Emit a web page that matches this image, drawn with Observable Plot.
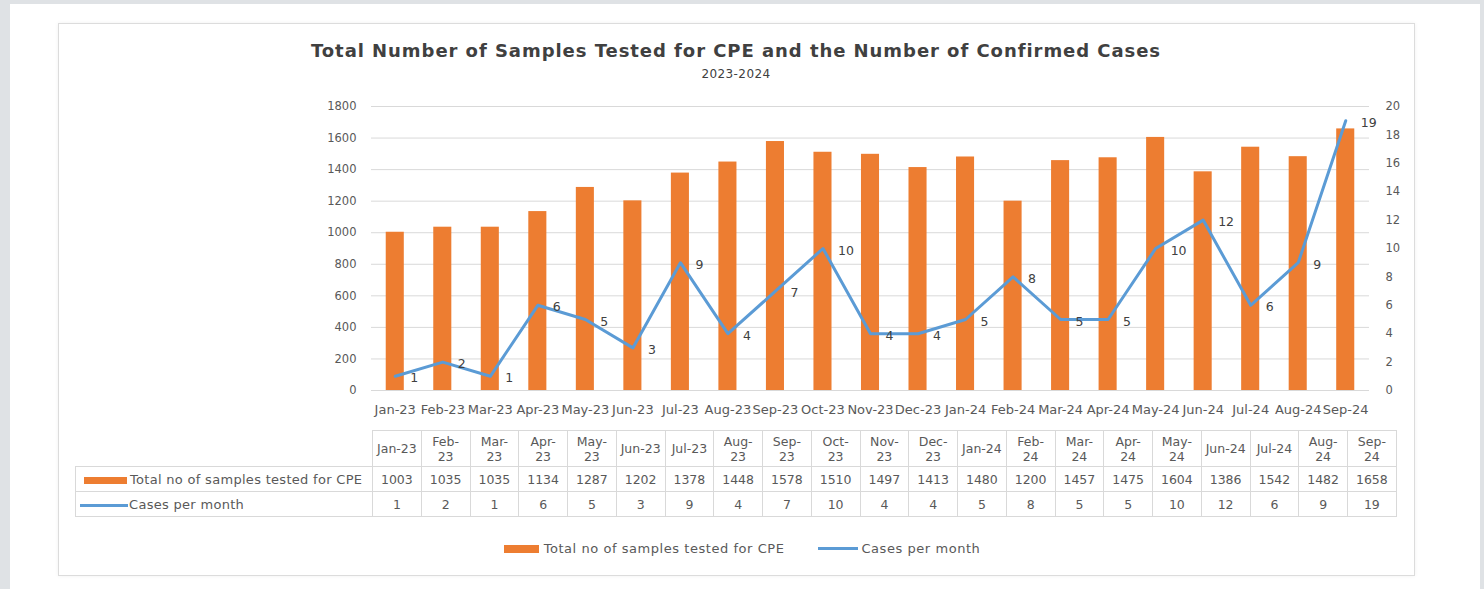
<!DOCTYPE html>
<html>
<head>
<meta charset="utf-8">
<script src="https://cdn.jsdelivr.net/npm/d3@7"></script>
<script src="https://cdn.jsdelivr.net/npm/@observablehq/plot@0.6"></script>
<style>
  html, body { margin:0; padding:0; }
  body { width:1484px; height:589px; background:#dfe2e5; position:relative; overflow:hidden; font-family:"DejaVu Sans", sans-serif; }
  #card { position:absolute; left:10px; top:4px; width:1470px; height:585px; background:#fff; }
  #frame { position:absolute; left:58px; top:23px; width:1355px; height:551px; border:1px solid #dcdcdc; box-shadow:0 0 4px rgba(0,0,0,0.06); }
  #title { position:absolute; left:58px; width:1356px; top:40px; text-align:center; font:bold 18px "DejaVu Sans", sans-serif; letter-spacing:0.95px; color:#404040; }
  #subtitle { position:absolute; left:58px; width:1356px; top:67px; text-align:center; font:12px "DejaVu Sans", sans-serif; color:#404040; letter-spacing:0.4px; }
  #chart { position:absolute; left:0; top:0; }
  #table { position:absolute; left:75px; top:430px; border-collapse:collapse; font:12.5px "DejaVu Sans", sans-serif; color:#595959; table-layout:fixed; }
  #table td { border:1px solid #d9d9d9; text-align:center; padding:0; line-height:15px; }
  #table tr.h td { height:35px; }
  #table tr.r td { height:24px; }
  #table td.corner { border-top:none; border-left:none; border-right:1px solid #d9d9d9; }
  #table td.lab { text-align:left; white-space:nowrap; font-size:13px; letter-spacing:0.3px; }
  .sw { display:inline-block; vertical-align:middle; }
  #legend { position:absolute; top:541px; left:0; width:1484px; display:flex; justify-content:center; align-items:center; font:13px "DejaVu Sans", sans-serif; letter-spacing:0.55px; color:#595959; }
  #legend .item { display:flex; align-items:center; margin:0 17px; }
</style>
</head>
<body>
<div id="card"></div>
<div id="frame"></div>
<div id="title"></div>
<div id="subtitle"></div>
<div id="chart"></div>
<table id="table"></table>
<div id="legend"></div>
<script>
const titleText = "Total Number of Samples Tested for CPE and the Number of Confirmed Cases";
const subtitleText = "2023-2024";
const months = ["Jan-23","Feb-23","Mar-23","Apr-23","May-23","Jun-23","Jul-23","Aug-23","Sep-23","Oct-23","Nov-23","Dec-23","Jan-24","Feb-24","Mar-24","Apr-24","May-24","Jun-24","Jul-24","Aug-24","Sep-24"];
const samples = [1003,1035,1035,1134,1287,1202,1378,1448,1578,1510,1497,1413,1480,1200,1457,1475,1604,1386,1542,1482,1658];
const cases = [1,2,1,6,5,3,9,4,7,10,4,4,5,8,5,5,10,12,6,9,19];
const seriesNames = ["Total no of samples tested for CPE", "Cases per month"];
const leftTicks = [0,200,400,600,800,1000,1200,1400,1600,1800];
const rightTicks = [0,2,4,6,8,10,12,14,16,18,20];

const colors = {bar:"#ed7d31", line:"#5b9bd5"};
const k = 1800 / 20;
const data = months.map((m, i) => ({month:m, samples:samples[i], cases:cases[i]}));

document.getElementById("title").textContent = titleText;
document.getElementById("subtitle").textContent = subtitleText;

const chart = Plot.plot({
  width:1484, height:440,
  marginLeft:371, marginRight:115, marginTop:106, marginBottom:50,
  style:{fontFamily:"DejaVu Sans", fontSize:"12px", color:"#595959", background:"transparent", overflow:"visible"},
  x:{domain:months, paddingInner:0.62, paddingOuter:0.31, round:false, label:null},
  y:{domain:[0,1800], label:null},
  marks:[
    Plot.ruleY(leftTicks.slice(1), {stroke:"#d9d9d9", strokeWidth:1}),
    Plot.barY(data, {x:"month", y:"samples", fill:colors.bar}),
    Plot.ruleY([0], {stroke:"#d9d9d9", strokeWidth:1}),
    Plot.axisY({ticks:leftTicks, anchor:"left", tickSize:0, tickPadding:15, tickFormat:d => String(d), label:null, fontSize:11.5}),
    Plot.axisY({ticks:rightTicks.map(d => d * k), anchor:"right", tickSize:0, tickPadding:16, tickFormat:d => String(Math.round(d / k)), label:null, fontSize:11.5}),
    Plot.axisX({tickSize:0, tickPadding:14, label:null, fontSize:13, style:{letterSpacing:"1px"}}),
    Plot.lineY(data, {x:"month", y:d => d.cases * k, stroke:colors.line, strokeWidth:3}),
    Plot.text(data, {x:"month", y:d => d.cases * k, text:"cases", dx:15, dy:2, textAnchor:"start", fill:"#404040", fontSize:12.5})
  ]
});
document.getElementById("chart").appendChild(chart);

// Data table under the axis
const table = document.getElementById("table");
const colW = 1024 / months.length;
let html = '<colgroup><col style="width:297px">' + months.map(() => `<col style="width:${colW}px">`).join("") + '</colgroup>';
html += '<tr class="h"><td class="corner"></td>' + months.map(m => {
  const parts = m.split("-");
  const label = m.startsWith("J") ? m : parts[0] + "-<br>" + parts[1];
  return `<td>${label}</td>`;
}).join("") + '</tr>';
html += `<tr class="r"><td class="lab"><span class="sw" style="width:43px;height:7px;background:${colors.bar};margin:0 3px 0 8px"></span>${seriesNames[0]}</td>` + samples.map(v => `<td>${v}</td>`).join("") + '</tr>';
html += `<tr class="r"><td class="lab"><span class="sw" style="width:48px;height:3px;background:${colors.line};margin:0 1px 0 4px"></span>${seriesNames[1]}</td>` + cases.map(v => `<td>${v}</td>`).join("") + '</tr>';
table.innerHTML = html;

// Legend
document.getElementById("legend").innerHTML =
  `<div class="item"><span class="sw" style="width:35px;height:8px;background:${colors.bar};margin-right:5px"></span>${seriesNames[0]}</div>` +
  `<div class="item"><span class="sw" style="width:40px;height:3px;background:${colors.line};margin-right:3px"></span>${seriesNames[1]}</div>`;
</script>
</body>
</html>
